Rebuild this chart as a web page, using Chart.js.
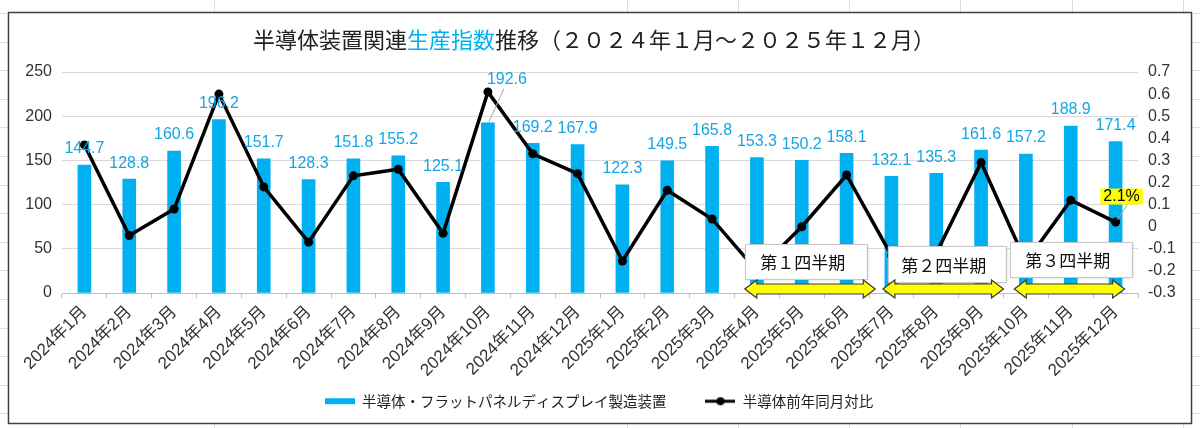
<!DOCTYPE html>
<html lang="ja">
<head>
<meta charset="utf-8">
<title>半導体装置関連生産指数推移</title>
<script src="https://cdn.jsdelivr.net/npm/chart.js@4.4.1/dist/chart.umd.min.js"></script>
<style>
  html, body { margin: 0; padding: 0; background: #fff; }
  #wrap { position: relative; width: 1200px; height: 428px; }
</style>
</head>
<body>
<div id="wrap"><canvas id="prodChart"></canvas></div>
<script>
const months = [
  '2024年1月', '2024年2月', '2024年3月', '2024年4月', '2024年5月', '2024年6月',
  '2024年7月', '2024年8月', '2024年9月', '2024年10月', '2024年11月', '2024年12月',
  '2025年1月', '2025年2月', '2025年3月', '2025年4月', '2025年5月', '2025年6月',
  '2025年7月', '2025年8月', '2025年9月', '2025年10月', '2025年11月', '2025年12月'
];
const productionIndex = [
  144.7, 128.8, 160.6, 196.2, 151.7, 128.3, 151.8, 155.2, 125.1, 192.6, 169.2, 167.9,
  122.3, 149.5, 165.8, 153.3, 150.2, 158.1, 132.1, 135.3, 161.6, 157.2, 188.9, 171.4
];
const yoyChange = [
  0.37, -0.04, 0.08, 0.60, 0.18, -0.07, 0.23, 0.26, -0.03, 0.61, 0.33, 0.24,
  -0.155, 0.165, 0.035, -0.20, 0.0, 0.234, -0.13, -0.12, 0.29, -0.16, 0.12, 0.021
];
const leftTicks = [0, 50, 100, 150, 200, 250];
const rightTicks = [-0.3, -0.2, -0.1, 0, 0.1, 0.2, 0.3, 0.4, 0.5, 0.6, 0.7];
const quarterLabels = ['第１四半期', '第２四半期', '第３四半期'];
const seriesNames = ['半導体・フラットパネルディスプレイ製造装置', '半導体前年同月対比'];

// where the callouts sit, in category index / left-axis units
const quarterBoxes = [
  { from: 14.73, to: 17.45, top: 55.4, bottom: 15.8, arrowFrom: 14.73, arrowTo: 17.64 },
  { from: 17.92, to: 20.55, top: 53.1, bottom: 12.4, arrowFrom: 17.81, arrowTo: 20.50 },
  { from: 20.64, to: 23.36, top: 57.7, bottom: 18.1, arrowFrom: 20.74, arrowTo: 23.20 }
];

const BAR_BLUE = '#00B0F0';
const LABEL_BLUE = '#14A6E4';
const LATIN = "'Liberation Sans', Arial, sans-serif";
const CJK = "'Noto Sans CJK JP', 'Liberation Sans', sans-serif";

Chart.defaults.font.family = "'Liberation Sans', 'Noto Sans CJK JP', sans-serif";
Chart.defaults.color = '#333';

function legendIcon(datasetIndex) {
  const c = document.createElement('canvas');
  c.width = 30; c.height = 12;
  const g = c.getContext('2d');
  if (datasetIndex === 0) {
    g.fillStyle = BAR_BLUE;
    g.fillRect(0, 3, 30, 6);
  } else {
    g.strokeStyle = '#000';
    g.lineWidth = 3;
    g.beginPath(); g.moveTo(0, 6); g.lineTo(30, 6); g.stroke();
    g.fillStyle = '#000';
    g.beginPath(); g.arc(15, 6, 4, 0, Math.PI * 2); g.fill();
  }
  return c;
}

function xAt(chart, idx) {
  const x = chart.scales.x;
  const x0 = x.getPixelForValue(0);
  const step = x.getPixelForValue(1) - x0;
  return x0 + idx * step;
}

function drawArrow(ctx, xl, xr, yc) {
  const head = 12, hh = 9, sh = 5;
  ctx.beginPath();
  ctx.moveTo(xl, yc);
  ctx.lineTo(xl + head, yc - hh);
  ctx.lineTo(xl + head, yc - sh);
  ctx.lineTo(xr - head, yc - sh);
  ctx.lineTo(xr - head, yc - hh);
  ctx.lineTo(xr, yc);
  ctx.lineTo(xr - head, yc + hh);
  ctx.lineTo(xr - head, yc + sh);
  ctx.lineTo(xl + head, yc + sh);
  ctx.lineTo(xl + head, yc + hh);
  ctx.closePath();
  ctx.fillStyle = '#FFFF00';
  ctx.fill();
  ctx.strokeStyle = '#3a3a3a';
  ctx.lineWidth = 1.2;
  ctx.stroke();
}

const overlayPlugin = {
  id: 'overlay',
  beforeDraw(chart) {
    const { ctx, width, height } = chart;
    ctx.save();
    ctx.fillStyle = '#fff';
    ctx.fillRect(0, 0, width, height);
    // spreadsheet cells behind the chart object
    ctx.strokeStyle = '#dcdcdc';
    ctx.lineWidth = 1;
    [214, 627, 738, 849, 960, 1072, 1183].forEach(x => {
      ctx.beginPath(); ctx.moveTo(x + 0.5, 0); ctx.lineTo(x + 0.5, height); ctx.stroke();
    });
    for (let y = 13; y < height; y += 28.6) {
      ctx.beginPath(); ctx.moveTo(0, Math.round(y) + 0.5); ctx.lineTo(width, Math.round(y) + 0.5); ctx.stroke();
    }
    ctx.fillStyle = '#fff';
    ctx.fillRect(8, 12, 1183, 411);
    ctx.strokeStyle = '#404040';
    ctx.lineWidth = 1.5;
    ctx.strokeRect(8.5, 12.5, 1183, 411);
    ctx.restore();
  },
  afterDatasetsDraw(chart) {
    const { ctx } = chart;
    const yS = chart.scales.y;
    const bars = chart.getDatasetMeta(0).data;
    const pts = chart.getDatasetMeta(1).data;
    ctx.save();

    // bar value labels
    ctx.font = '16px ' + LATIN;
    ctx.fillStyle = LABEL_BLUE;
    ctx.textAlign = 'center';
    ctx.textBaseline = 'middle';
    bars.forEach((b, i) => {
      let x = b.x, y = b.y - 16;
      if (i === 9) {
        x += 19; y -= 27;
        ctx.strokeStyle = '#a6a6a6';
        ctx.lineWidth = 1;
        ctx.beginPath(); ctx.moveTo(x - 3, y + 9); ctx.lineTo(b.x + 1, b.y - 1); ctx.stroke();
      }
      ctx.fillText(productionIndex[i].toFixed(1), x, y);
    });

    // last month yoy callout
    const last = pts[pts.length - 1];
    const txt = (yoyChange[yoyChange.length - 1] * 100).toFixed(1) + '%';
    const cx = last.x + 6, cy = last.y - 25.5;
    ctx.strokeStyle = '#a6a6a6';
    ctx.lineWidth = 1;
    ctx.beginPath(); ctx.moveTo(cx + 6, cy + 8); ctx.lineTo(last.x + 1, last.y - 2); ctx.stroke();
    const w = ctx.measureText(txt).width + 6;
    ctx.fillStyle = '#FFFF00';
    ctx.fillRect(cx - w / 2, cy - 8, w, 16);
    ctx.fillStyle = '#000';
    ctx.fillText(txt, cx, cy + 0.5);

    // quarter callouts and arrows
    quarterBoxes.forEach((q, i) => {
      const xl = xAt(chart, q.from), xr = xAt(chart, q.to);
      const yt = yS.getPixelForValue(q.top), yb = yS.getPixelForValue(q.bottom);
      ctx.save();
      ctx.shadowColor = 'rgba(0,0,0,0.25)';
      ctx.shadowBlur = 3;
      ctx.shadowOffsetX = 1;
      ctx.shadowOffsetY = 1;
      ctx.fillStyle = '#fff';
      ctx.fillRect(xl, yt, xr - xl, yb - yt);
      ctx.restore();
      ctx.strokeStyle = '#c8c8c8';
      ctx.lineWidth = 1;
      ctx.strokeRect(Math.round(xl) + 0.5, Math.round(yt) + 0.5, Math.round(xr - xl), Math.round(yb - yt));
      ctx.font = '17px ' + CJK;
      ctx.fillStyle = '#111';
      ctx.fillText(quarterLabels[i], (xl + xr) / 2 - 3, (yt + yb) / 2 + 1);
      drawArrow(ctx, xAt(chart, q.arrowFrom), xAt(chart, q.arrowTo), yS.getPixelForValue(4.5));
    });
    ctx.restore();
  },
  afterDraw(chart) {
    const { ctx } = chart;
    const parts = [
      ['半導体装置関連', '#222'],
      ['生産指数', BAR_BLUE],
      ['推移（２０２４年１月～２０２５年１２月）', '#222']
    ];
    ctx.save();
    ctx.font = '22px ' + CJK;
    ctx.textBaseline = 'middle';
    ctx.textAlign = 'left';
    const total = parts.reduce((s, p) => s + ctx.measureText(p[0]).width, 0);
    let x = 594 - total / 2;
    parts.forEach(([t, c]) => {
      ctx.fillStyle = c;
      ctx.fillText(t, x, 40);
      x += ctx.measureText(t).width;
    });
    ctx.restore();
  }
};

new Chart(document.getElementById('prodChart'), {
  type: 'bar',
  data: {
    labels: months,
    datasets: [
      {
        type: 'bar',
        label: seriesNames[0],
        data: productionIndex,
        backgroundColor: BAR_BLUE,
        barThickness: 13,
        yAxisID: 'y',
        order: 2
      },
      {
        type: 'line',
        label: seriesNames[1],
        data: yoyChange,
        borderColor: '#000',
        backgroundColor: '#000',
        borderWidth: 3.5,
        pointRadius: 4.5,
        pointBackgroundColor: '#000',
        pointBorderWidth: 0,
        tension: 0,
        yAxisID: 'y1',
        order: 1
      }
    ]
  },
  options: {
    responsive: true,
    maintainAspectRatio: false,
    animation: false,
    layout: { autoPadding: false, padding: { top: 72, left: 8, right: 10, bottom: 9.5 } },
    scales: {
      x: {
        offset: true,
        grid: { display: true, drawOnChartArea: false, drawTicks: true, tickLength: 5, color: '#bfbfbf' },
        border: { display: true, color: '#bfbfbf' },
        ticks: {
          autoSkip: false, minRotation: 45, maxRotation: 45, padding: 4,
          font: { size: 17 }, color: '#333'
        },
        afterFit(s) { s.height = 91; }
      },
      y: {
        position: 'left',
        min: leftTicks[0],
        max: leftTicks[leftTicks.length - 1],
        afterBuildTicks(s) { s.ticks = leftTicks.map(v => ({ value: v })); },
        grid: { color: '#d9d9d9', drawTicks: false },
        border: { display: false },
        ticks: { autoSkip: false, padding: 10, font: { size: 16 }, color: '#333' },
        afterFit(s) { s.width = 54; }
      },
      y1: {
        position: 'right',
        min: rightTicks[0],
        max: rightTicks[rightTicks.length - 1],
        afterBuildTicks(s) { s.ticks = rightTicks.map(v => ({ value: v })); },
        grid: { drawOnChartArea: false, drawTicks: false },
        border: { display: false },
        ticks: {
          autoSkip: false, padding: 10, font: { size: 16 }, color: '#333',
          callback: v => String(Math.round(v * 10) / 10)
        },
        afterFit(s) { s.width = 52; }
      }
    },
    plugins: {
      tooltip: { enabled: false },
      legend: {
        position: 'bottom',
        labels: {
          usePointStyle: true,
          pointStyleWidth: 30,
          boxHeight: 12,
          padding: 10,
          color: '#222',
          font: { size: 14.5, family: CJK },
          generateLabels(chart) {
            const items = Chart.defaults.plugins.legend.labels.generateLabels(chart);
            items.sort((a, b) => a.datasetIndex - b.datasetIndex);
            items.forEach(it => {
              it.pointStyle = legendIcon(it.datasetIndex);
              if (it.datasetIndex === 0) it.text += '　　';
            });
            return items;
          }
        }
      }
    }
  },
  plugins: [overlayPlugin]
});
</script>
</body>
</html>
